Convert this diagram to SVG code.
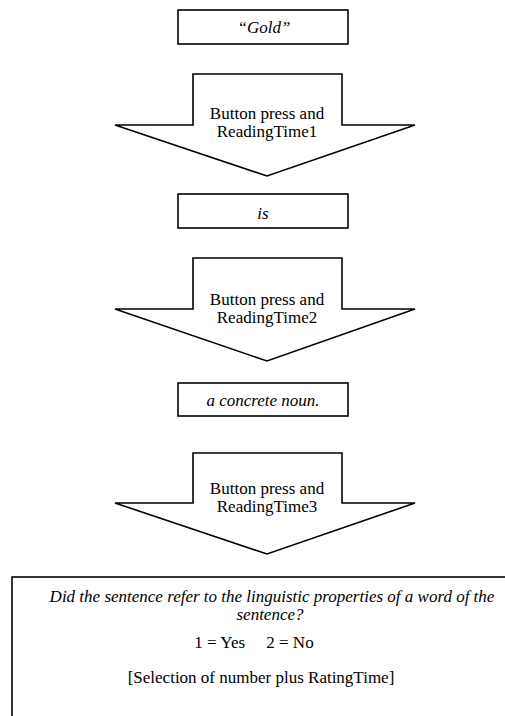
<svg xmlns="http://www.w3.org/2000/svg" width="505" height="716" viewBox="0 0 505 716">
<style>
.shape{fill:#fff;stroke:#000;stroke-width:1.6;stroke-linejoin:miter}
text{font-family:"Liberation Serif","Times New Roman",serif;font-size:17px;fill:#000;text-anchor:middle}
.it{font-style:italic}
</style>
<rect width="505" height="716" fill="#fff"/>
<g id="word1">
<rect class="shape" x="178" y="10" width="170" height="34"/>
<text class="it" x="264" y="33">“Gold”</text>
</g>
<g id="arrow1">
<polygon class="shape" points="193,74 342,74 342,125 415,125 267,176 115,125 193,125"/>
<text x="267" y="119">Button press and</text>
<text x="267" y="137">ReadingTime1</text>
</g>
<g id="word2">
<rect class="shape" x="178" y="194" width="170" height="34"/>
<text class="it" x="263" y="219">is</text>
</g>
<g id="arrow2">
<polygon class="shape" points="193,258 342,258 342,309 415,309 267,361 115,309 193,309"/>
<text x="267" y="305">Button press and</text>
<text x="267" y="323">ReadingTime2</text>
</g>
<g id="word3">
<rect class="shape" x="178" y="383" width="170" height="33"/>
<text class="it" x="263" y="406">a concrete noun.</text>
</g>
<g id="arrow3">
<polygon class="shape" points="193,453 342,453 342,503 415,503 267,554 115,503 193,503"/>
<text x="267" y="494">Button press and</text>
<text x="267" y="512">ReadingTime3</text>
</g>
<g id="question">
<rect class="shape" x="12" y="577" width="520" height="160"/>
<text class="it" x="272" y="602">Did the sentence refer to the linguistic properties of a word of the</text>
<text class="it" x="270" y="620">sentence?</text>
<text x="254" y="648" xml:space="preserve">1 = Yes     2 = No</text>
<text x="261" y="683">[Selection of number plus RatingTime]</text>
</g>
<g id="connectors"/>
</svg>
